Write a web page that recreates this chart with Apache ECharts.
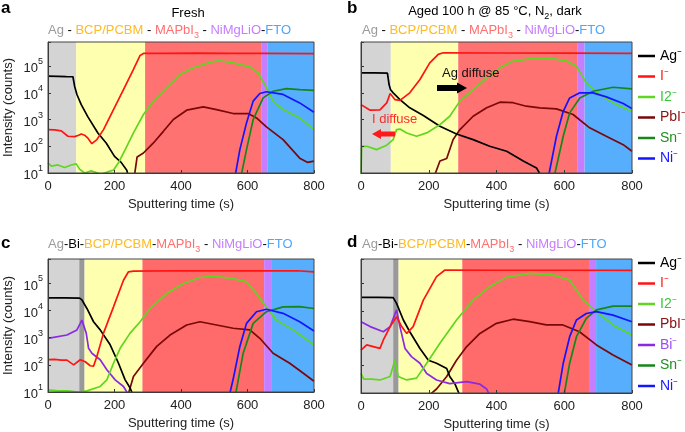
<!DOCTYPE html>
<html>
<head>
<meta charset="utf-8">
<script src="https://cdn.jsdelivr.net/npm/echarts@6/dist/echarts.min.js"></script>
<style>html,body{margin:0;padding:0;background:#fff}#chart{width:685px;height:432px}</style>
</head>
<body>
<div id="chart"></div>
<script>
// ---- data: [sputtering time (s), counts] ----
// a: fresh
const aAg = [[0,42000],[30,41500],[55,40500],[75,40000],[80,17800],[87,8700],[100,3600],[120,1260],[150,316],[175,133],[200,42],[220,25],[237,12.6],[241,8]];
const aI = [[0,420],[20,410],[40,380],[60,237],[80,230],[92,260],[100,290],[110,260],[120,200],[132,125],[147,178],[167,420],[197,2370],[227,13300],[257,75000],[277,251000],[287,298000],[350,300000],[450,305000],[550,300000],[650,298000],[800,295000]];
const aI2 = [[0,24],[10,18],[30,20],[50,16],[70,20],[85,22],[95,14],[110,10],[130,12],[160,9],[180,11],[197,13],[212,24],[237,100],[257,316],[287,1550],[317,4900],[357,15500],[397,49000],[437,87000],[477,126000],[512,162000],[557,133000],[607,94000],[632,56000],[657,15500],[677,4900],[707,2370],[757,1150],[800,420]];
const aPbI = [[260,8],[268,40],[287,56],[317,133],[347,363],[377,1000],[417,2240],[467,2985],[507,2370],[557,1680],[602,1680],[627,1150],[657,531],[707,178],[757,36],[780,25],[800,28]];
const aSn = [[581,8],[597,75],[617,1000],[647,6460],[677,11500],[717,14450],[757,13300],[800,12300]];
const aNi = [[563,8],[577,75],[597,750],[617,4900],[637,9440],[657,11000],[707,8700],[757,4200],[800,1880]];
// b: aged 100 h
const bAg = [[0,56000],[40,56000],[78,55000],[83,20000],[87,13300],[95,10000],[115,5600],[144,2750],[184,1410],[233,562],[282,288],[331,178],[380,100],[430,65],[479,28],[518,15.5],[531,8]];
const bI = [[0,3630],[27,2240],[56,2300],[76,4220],[86,9440],[90,9000],[100,5600],[115,5200],[144,10000],[174,31600],[203,133000],[228,275000],[243,316000],[400,310000],[600,305000],[800,300000]];
const bI2 = [[0,8],[2,100],[17,100],[46,75],[76,110],[95,178],[105,420],[115,440],[135,316],[164,237],[194,316],[233,646],[262,1330],[292,4900],[331,13300],[371,36300],[410,87000],[449,155000],[508,195000],[567,190000],[606,155000],[636,100000],[665,23700],[704,8700],[754,3630],[800,2040]];
const bPbI = [[217,8],[233,28],[253,35],[272,178],[292,422],[331,1330],[371,2750],[410,4470],[449,4270],[488,3160],[528,2750],[577,2510],[626,1550],[675,490],[724,237],[774,115],[800,65]];
const bSn = [[571,8],[597,237],[616,1780],[646,6460],[685,11500],[744,16200],[800,14100]];
const bNi = [[554,8],[577,237],[597,2040],[616,6460],[646,10000],[685,10000],[724,7080],[774,3980],[800,2570]];
// c: fresh with Bi
const cAg = [[0,29500],[50,29500],[95,29000],[102,25000],[117,12000],[137,3890],[157,1950],[187,550],[212,115],[232,28],[247,14],[255,8]];
const cI = [[0,155],[20,160],[40,150],[57,150],[77,100],[97,155],[112,130],[127,93],[137,90],[147,204],[167,1480],[197,13800],[227,132000],[242,270000],[257,288000],[400,295000],[600,290000],[750,295000],[800,270000]];
const cI2 = [[0,12],[30,11],[60,11],[90,10],[117,11],[157,16],[177,28],[197,115],[217,407],[247,1480],[277,3890],[307,12000],[357,42700],[407,100000],[457,166000],[497,186000],[557,151000],[597,115000],[627,42700],[657,13200],[687,4470],[737,1950],[800,550]];
const cPbI = [[241,8],[257,37],[287,115],[327,480],[367,1260],[417,2950],[457,3890],[507,2950],[557,2240],[607,1950],[637,955],[677,269],[727,115],[767,50],[800,25]];
const cBi = [[0,955],[57,1260],[87,1950],[102,4470],[107,4700],[115,1480],[122,407],[132,269],[157,155],[177,66],[202,28],[227,16],[237,10],[240,8]];
const cSn = [[564,8],[587,269],[617,3390],[657,9120],[707,13800],[757,14000],[800,12000]];
const cNi = [[546,8],[557,30],[577,480],[597,3390],[627,9120],[657,11200],[707,7940],[757,3890],[800,1780]];
// d: aged with Bi
const dAg = [[0,31600],[50,31600],[95,31000],[105,19000],[125,4680],[144,1740],[174,427],[199,158],[223,123],[253,79],[262,40],[277,22],[292,8]];
const dI = [[0,372],[17,575],[36,500],[56,427],[66,871],[86,2690],[105,6170],[120,2690],[135,1510],[154,2690],[184,25100],[223,182000],[248,316000],[400,310000],[600,310000],[800,305000]];
const dI2 = [[0,52],[8,32],[30,32],[56,30],[86,40],[100,158],[110,40],[135,30],[164,35],[194,123],[233,661],[282,4680],[331,25100],[380,77600],[429,170000],[498,240000],[567,209000],[616,135000],[656,25100],[695,9550],[744,3090],[800,1320]];
const dPbI = [[200,8],[223,14],[253,40],[282,158],[312,500],[351,1510],[400,3550],[449,5010],[498,4070],[547,3090],[596,3090],[645,1740],[695,575],[744,245],[800,105]];
const dBi = [[0,4070],[27,2690],[66,1740],[86,2690],[105,11000],[115,2690],[130,427],[149,214],[174,123],[194,52],[223,30],[262,22],[312,26],[351,21],[371,14],[380,8]];
const dSn = [[599,8],[616,123],[636,1150],[665,5370],[695,11000],[744,15100],[800,15100]];
const dNi = [[581,8],[597,123],[616,1150],[636,4680],[665,8130],[695,9550],[744,7080],[800,4070]];

// layer boundaries (s)
const aEdges = [0, 85, 292, 641, 661, 800];
const bEdges = [0, 88, 287, 640, 660, 800];
const cEdges = [0, 94, 110, 284, 650, 671, 800];
const dEdges = [0, 95, 111, 299, 673, 694, 800];

const FONT = '"Liberation Sans", Arial, Helvetica, sans-serif';
const bandColors5 = ['#d4d4d4', '#ffffb0', '#ff7272', '#c57eff', '#56aefc'];
const bandColors6 = ['#d4d4d4', '#999999', '#ffffb0', '#ff6a6a', '#c57eff', '#56aefc'];
const lineColors = {
  'Ag⁻': '#000000', 'I⁻': '#ff1414', 'I2⁻': '#5fd622', 'PbI⁻': '#7a0808',
  'Bi⁻': '#8a2be2', 'Sn⁻': '#16861a', 'Ni⁻': '#1414ff'
};
const textColors = {
  'Ag⁻': '#000000', 'I⁻': '#ff1a1a', 'I2⁻': '#39c639', 'PbI⁻': '#8b1010',
  'Bi⁻': '#9a4dff', 'Sn⁻': '#1f8f1f', 'Ni⁻': '#1a1aff'
};

const grids = [
  {left: 48, top: 42, width: 266, height: 131},
  {left: 361, top: 42, width: 271, height: 131},
  {left: 48, top: 259, width: 266, height: 133},
  {left: 361, top: 259, width: 271, height: 134}
].map(g => Object.assign({show: true, z: 6, backgroundColor: 'transparent', borderColor: '#444', borderWidth: 1, outerBoundsMode: 'none'}, g));

function xAx(i) {
  return {
    type: 'value', gridIndex: i, min: 0, max: 800, interval: 200, z: 5,
    axisLine: {lineStyle: {color: '#333'}},
    axisTick: {inside: true, length: 3, lineStyle: {color: '#333'}},
    splitLine: {show: false},
    axisLabel: {margin: 7, fontFamily: FONT, fontSize: 13, color: '#222'},
    name: 'Sputtering time (s)', nameLocation: 'middle', nameGap: 25,
    nameTextStyle: {fontFamily: FONT, fontSize: 13, color: '#222'}
  };
}

function yAx(i, labeled) {
  return {
    type: 'log', logBase: 10, gridIndex: i, min: 10, max: 800000, z: 5,
    axisLine: {show: true, lineStyle: {color: '#333'}},
    axisTick: {show: true, inside: true, length: 3, lineStyle: {color: '#333'}},
    splitLine: {show: false},
    axisLabel: {
      show: labeled, margin: 5, color: '#222',
      formatter: function (v) {
        const e = Math.log10(v);
        return Math.abs(e - Math.round(e)) < 1e-6 ? '{b|10}{s|' + Math.round(e) + '}' : '';
      },
      rich: {
        b: {fontFamily: FONT, fontSize: 13, lineHeight: 18, verticalAlign: 'bottom', color: '#222'},
        s: {fontFamily: FONT, fontSize: 9, lineHeight: 10, verticalAlign: 'top', color: '#222'}
      }
    },
    name: labeled ? 'Intensity (counts)' : '', nameLocation: 'middle', nameGap: 33,
    nameTextStyle: {fontFamily: FONT, fontSize: 13, color: '#222'}
  };
}

function bands(i, edges, cols) {
  const data = [];
  for (let k = 0; k < cols.length; k++) {
    data.push([{xAxis: edges[k], itemStyle: {color: cols[k]}}, {xAxis: edges[k + 1]}]);
  }
  return {
    type: 'line', xAxisIndex: i, yAxisIndex: i, data: [], z: 1, silent: true,
    markArea: {silent: true, data: data}
  };
}

function line(i, name, data) {
  return {
    type: 'line', name: name, xAxisIndex: i, yAxisIndex: i, data: data, z: 3,
    symbol: 'none', showSymbol: false, silent: true, animation: false,
    lineStyle: {color: lineColors[name], width: 1.7},
    itemStyle: {color: lineColors[name]}
  };
}

const panels = [
  [['PbI⁻', aPbI], ['Ag⁻', aAg], ['I2⁻', aI2], ['Sn⁻', aSn], ['Ni⁻', aNi], ['I⁻', aI]],
  [['PbI⁻', bPbI], ['Ag⁻', bAg], ['I2⁻', bI2], ['Sn⁻', bSn], ['Ni⁻', bNi], ['I⁻', bI]],
  [['PbI⁻', cPbI], ['Ag⁻', cAg], ['Bi⁻', cBi], ['I2⁻', cI2], ['Sn⁻', cSn], ['Ni⁻', cNi], ['I⁻', cI]],
  [['PbI⁻', dPbI], ['Ag⁻', dAg], ['Bi⁻', dBi], ['I2⁻', dI2], ['Sn⁻', dSn], ['Ni⁻', dNi], ['I⁻', dI]]
];

const series = [
  bands(0, aEdges, bandColors5), bands(1, bEdges, bandColors5),
  bands(2, cEdges, bandColors6), bands(3, dEdges, bandColors6)
];
panels.forEach((p, i) => p.forEach(([n, d]) => series.push(line(i, n, d))));

function legendItems(names) {
  return names.map(n => ({name: n, icon: 'rect', itemStyle: {color: lineColors[n]}, textStyle: {color: textColors[n]}}));
}
const legendBase = {
  orient: 'vertical', left: 638, padding: 0, itemWidth: 17, itemHeight: 2.5, itemGap: 6.5,
  selectedMode: false, width: 60,
  textStyle: {fontFamily: FONT, fontSize: 14, padding: 0}
};

// layer label rich styles
const base = {fontFamily: FONT, fontSize: 13, lineHeight: 16, verticalAlign: 'top'};
const sub = {fontFamily: FONT, fontSize: 9, lineHeight: 6, verticalAlign: 'bottom'};
const layerRich = {
  k: Object.assign({fill: '#000'}, base),
  g: Object.assign({fill: '#9a9a9a'}, base),
  y: Object.assign({fill: '#ffbb22'}, base),
  r: Object.assign({fill: '#ff7070'}, base),
  rs: Object.assign({fill: '#ff7070'}, sub),
  ks: Object.assign({fill: '#000'}, sub),
  p: Object.assign({fill: '#c77dff'}, base),
  bl: Object.assign({fill: '#4aa8ff'}, base)
};
const layers1 = '{g|Ag}{k| - }{y|BCP/PCBM}{k| - }{r|MAPbI}{rs|3}{k| - }{p|NiMgLiO}{k|-}{bl|FTO}';
const layers2 = '{g|Ag}{k|-Bi-}{y|BCP/PCBM}{k|-}{r|MAPbI}{rs|3}{k| - }{p|NiMgLiO}{k|-}{bl|FTO}';

function txt(x, y, text, opts) {
  return {
    type: 'text', x: x, y: y, z: 10, silent: true,
    style: Object.assign({text: text, font: '13px ' + FONT, fill: '#000', align: 'left', verticalAlign: 'middle'}, opts || {})
  };
}

const graphic = [
  txt(1, 8, 'a', {font: 'bold 17px ' + FONT}),
  txt(347, 8, 'b', {font: 'bold 17px ' + FONT}),
  txt(1, 243, 'c', {font: 'bold 17px ' + FONT}),
  txt(347, 242, 'd', {font: 'bold 17px ' + FONT}),
  txt(188, 13, 'Fresh', {align: 'center'}),
  txt(495, 13, '{k|Aged 100 h @ 85 °C, N}{ks|2}{k|, dark}', {align: 'center', rich: layerRich}),
  txt(48, 32, layers1, {rich: layerRich}),
  txt(362, 32, layers1, {rich: layerRich}),
  txt(48, 246, layers2, {rich: layerRich}),
  txt(362, 246, layers2, {rich: layerRich}),
  txt(442, 73, 'Ag diffuse', {fill: '#111'}),
  txt(372, 119, 'I diffuse', {fill: '#ff2a2a'}),
  {type: 'polygon', z: 10, silent: true,
   shape: {points: [[437, 85], [457, 85], [457, 82.5], [467, 88], [457, 93.5], [457, 91], [437, 91]]},
   style: {fill: '#000'}},
  {type: 'polygon', z: 10, silent: true,
   shape: {points: [[395, 131.5], [381, 131.5], [381, 129], [372, 134], [381, 139], [381, 136.5], [395, 136.5]]},
   style: {fill: '#ff1a1a'}}
];

const chart = echarts.init(document.getElementById('chart'));
chart.setOption({
  animation: false,
  backgroundColor: '#fff',
  textStyle: {fontFamily: FONT},
  grid: grids,
  xAxis: [xAx(0), xAx(1), xAx(2), xAx(3)],
  yAxis: [yAx(0, true), yAx(1, false), yAx(2, true), yAx(3, false)],
  legend: [
    Object.assign({top: 49, data: legendItems(['Ag⁻', 'I⁻', 'I2⁻', 'PbI⁻', 'Sn⁻', 'Ni⁻'])}, legendBase),
    Object.assign({top: 256, data: legendItems(['Ag⁻', 'I⁻', 'I2⁻', 'PbI⁻', 'Bi⁻', 'Sn⁻', 'Ni⁻'])}, legendBase)
  ],
  graphic: graphic,
  series: series
});
</script>
</body>
</html>
